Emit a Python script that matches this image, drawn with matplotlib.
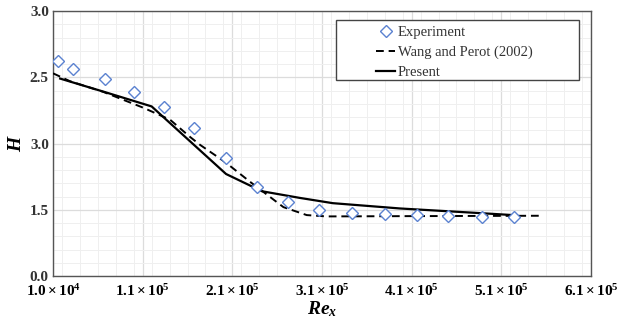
import matplotlib
matplotlib.use("Agg")
import matplotlib.pyplot as plt
from matplotlib.patches import Rectangle
from matplotlib.ticker import MultipleLocator, FixedLocator, FixedFormatter

plt.rcParams['font.family'] = ['Liberation Serif', 'DejaVu Serif']
plt.rcParams['mathtext.fontset'] = 'custom'
plt.rcParams['mathtext.rm'] = 'Liberation Serif'
plt.rcParams['mathtext.it'] = 'Liberation Serif:italic:bold'
plt.rcParams['mathtext.bf'] = 'Liberation Serif:bold'

# experiment (diamonds)
exp_x = [1.5e4, 3.2e4, 6.8e4, 1.0e5, 1.34e5, 1.67e5, 2.03e5, 2.37e5,
         2.72e5, 3.07e5, 3.43e5, 3.8e5, 4.16e5, 4.51e5, 4.88e5, 5.24e5]
exp_h = [2.625, 2.56, 2.485, 2.39, 2.278, 2.117, 1.89, 1.672,
         1.558, 1.498, 1.478, 1.466, 1.458, 1.453, 1.448, 1.445]

# Wang and Perot (2002), dashed
wp_x = [1.0e4, 2.9e4, 6.6e4, 1.107e5, 1.405e5, 1.628e5, 1.74e5, 2.02e5,
        2.3e5, 2.67e5, 2.93e5, 3.15e5, 4.0e5, 5.53e5]
wp_h = [2.53, 2.47, 2.39, 2.27, 2.18, 2.05, 1.99, 1.86,
        1.71, 1.52, 1.46, 1.45, 1.452, 1.455]

# present, solid
pr_x = [1.8e4, 6.7e4, 1.2e5, 2.03e5, 2.43e5, 2.85e5, 3.22e5, 3.97e5, 4.86e5, 5.23e5]
pr_h = [2.49, 2.39, 2.28, 1.77, 1.64, 1.59, 1.55, 1.51, 1.475, 1.46]

xticks = [1e4, 1.1e5, 2.1e5, 3.1e5, 4.1e5, 5.1e5, 6.1e5]
xlabels = [r'$\mathbf{1.0\times10^4}$', r'$\mathbf{1.1\times10^5}$', r'$\mathbf{2.1\times10^5}$',
           r'$\mathbf{3.1\times10^5}$', r'$\mathbf{4.1\times10^5}$', r'$\mathbf{5.1\times10^5}$',
           r'$\mathbf{6.1\times10^5}$']
yticks = [1.0, 1.5, 2.0, 2.5, 3.0]
ylabels = ['0.0', '1.5', '3.0', '2.5', '3.0']

fig = plt.figure(figsize=(6.23, 3.24), dpi=100)
ax = fig.add_axes([0.0851, 0.148, 0.8635, 0.818])

ax.plot(exp_x, exp_h, linestyle='none', marker='D', markersize=6,
        markerfacecolor='white', markeredgecolor='#5b82d0', markeredgewidth=1.0,
        label='Experiment', zorder=4)
ax.plot(wp_x, wp_h, color='black', linestyle=(0, (4, 2.5)), linewidth=1.4,
        label='Wang and Perot (2002)', zorder=3)
ax.plot(pr_x, pr_h, color='black', linestyle='-', linewidth=1.6,
        label='Present', zorder=3)

ax.set_xlim(1e4, 6.1e5)
ax.set_ylim(1.0, 3.0)
ax.xaxis.set_major_locator(FixedLocator(xticks))
ax.xaxis.set_major_formatter(FixedFormatter(xlabels))
ax.xaxis.set_minor_locator(MultipleLocator(2e4))
ax.yaxis.set_major_locator(FixedLocator(yticks))
ax.yaxis.set_major_formatter(FixedFormatter(ylabels))
ax.yaxis.set_minor_locator(MultipleLocator(0.1))

ax.grid(which='major', color='#dcdcdc', linewidth=0.9)
ax.grid(which='minor', color='#efefef', linewidth=0.7)
ax.set_axisbelow(True)
ax.tick_params(which='both', length=0)
ax.tick_params(axis='y', labelsize=11, pad=3)
ax.tick_params(axis='x', labelsize=11, pad=5)
for lab in ax.get_yticklabels():
    lab.set_fontweight('bold')
    lab.set_color('#333333')
for s in ax.spines.values():
    s.set_color('#555555')
    s.set_linewidth(1.0)

ax.set_xlabel(r'$Re_x$', fontsize=14, labelpad=0)
ax.set_ylabel(r'$H$', fontsize=14)
ax.yaxis.set_label_coords(-0.052, 0.5)

# legend box is wider than its content, draw frame separately
box = Rectangle((0.526, 0.74), 0.452, 0.226, transform=ax.transAxes,
                facecolor='white', edgecolor='#444444', linewidth=1.0, zorder=5)
ax.add_patch(box)
leg = ax.legend(loc='upper left', bbox_to_anchor=(0.600, 0.943), fontsize=10.5,
                frameon=False, borderpad=0, labelspacing=0.45,
                handlelength=1.35, handletextpad=0.15, borderaxespad=0)
leg.set_zorder(6)
for t in leg.get_texts():
    t.set_color('#333333')

fig.savefig('out.png', dpi=100)
